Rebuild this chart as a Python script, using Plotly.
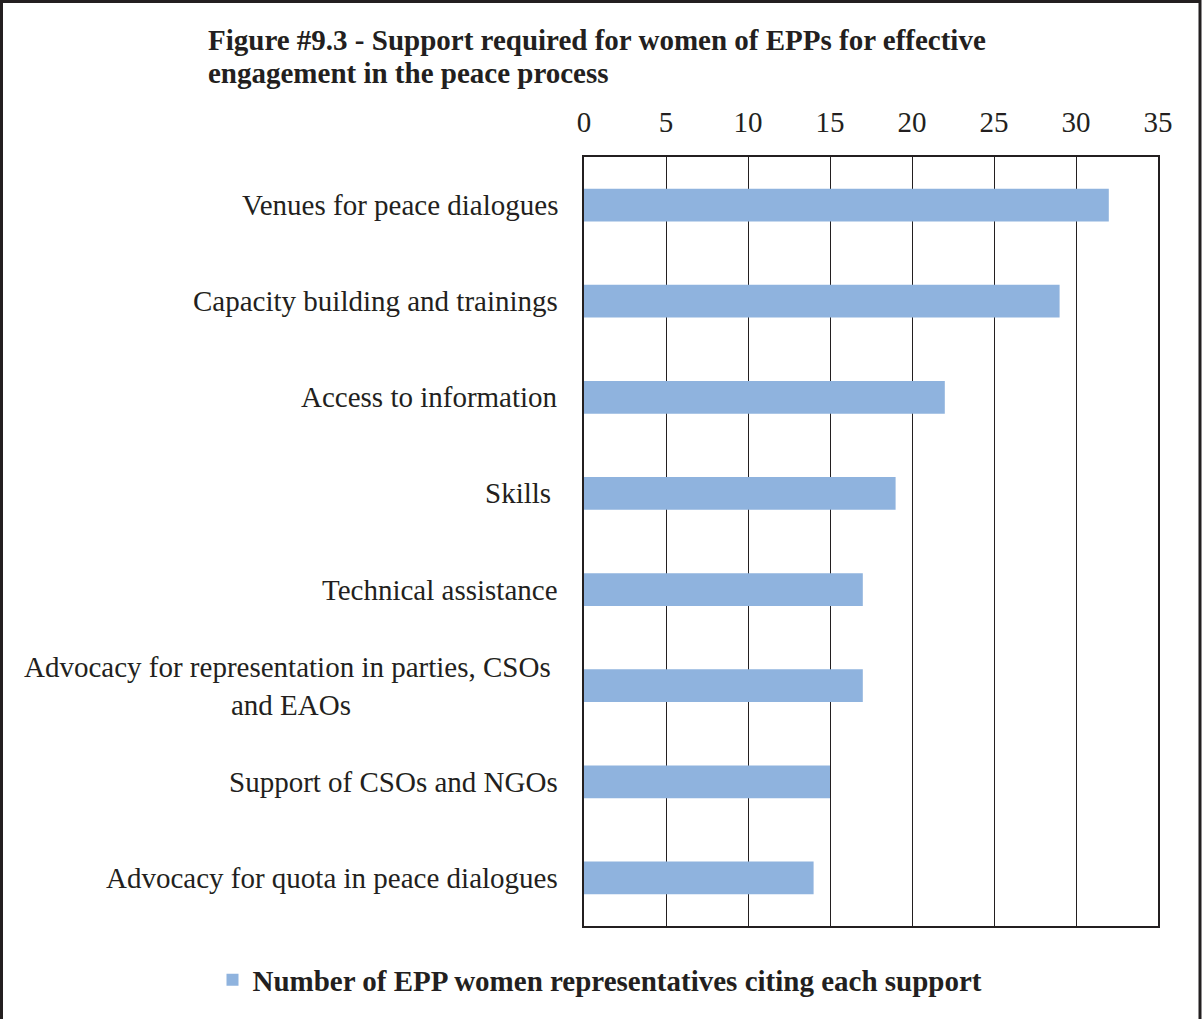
import plotly.graph_objects as go

categories = ["Venues for peace dialogues",
              "Capacity building and trainings",
              "Access to information",
              "Skills\u00a0",
              "Technical assistance",
              "Advocacy for representation in parties, CSOs\u00a0<br>and EAOs",
              "Support of CSOs and NGOs",
              "Advocacy for quota in peace dialogues"]
values = [32, 29, 22, 19, 17, 17, 15, 14]
series_name = "<b>Number of EPP women representatives citing each support</b>"
title_lines = ["Figure #9.3 - Support required for women of EPPs for effective",
               "engagement in the peace process"]

FONT = "Liberation Serif, Times New Roman, serif"
FS = 29
W, H = 1202, 1019
ML, MR, MT, MB = 584, 44, 157, 93
pw, ph = W - ML - MR, H - MT - MB


def px_x(p):
    return (p - ML) / pw


def px_y(p):
    return (H - MB - p) / ph


ids = list(range(len(categories)))

fig = go.Figure(go.Bar(
    x=values, y=ids, orientation="h",
    marker=dict(color="#8FB3DE", line=dict(width=0)),
    name=series_name, showlegend=True,
))

for i, c in zip(ids, categories):
    fig.add_annotation(x=px_x(560), xref="paper", y=i, yref="y",
                       text=c, showarrow=False, xanchor="right", align="center",
                       font=dict(family=FONT, size=FS, color="#231f20"))

# title, one annotation per line to match the tight line spacing
for top, line in zip([22, 55], title_lines):
    fig.add_annotation(x=px_x(206), xref="paper", y=px_y(top), yref="paper",
                       text="<b>" + line + "</b>", showarrow=False,
                       xanchor="left", yanchor="top", align="left",
                       font=dict(family=FONT, size=FS, color="#231f20"))

fig.update_layout(
    width=W, height=H,
    margin=dict(l=ML, r=MR, t=MT, b=MB),
    paper_bgcolor="white", plot_bgcolor="white",
    font=dict(family=FONT, size=FS, color="#231f20"),
    bargap=0.66,
    showlegend=True,
    legend=dict(orientation="h", x=px_x(600), xanchor="center", y=px_y(980), yanchor="middle",
                font=dict(family=FONT, size=FS, color="#231f20"), itemwidth=30),
    xaxis=dict(range=[0, 35], dtick=5, side="top", showgrid=True, gridcolor="#231f20", gridwidth=1,
               showline=True, linecolor="#231f20", linewidth=1.5, mirror=True, zeroline=False,
               ticks="", ticklabelstandoff=12, tickfont=dict(family=FONT, size=FS, color="#231f20")),
    yaxis=dict(range=[7.5, -0.5], showticklabels=False, showgrid=False, zeroline=False,
               showline=True, linecolor="#231f20", linewidth=1.5, mirror=True, ticks=""),
)

fig.add_shape(type="rect", xref="paper", yref="paper",
              x0=px_x(1.5), x1=px_x(1200), y0=px_y(1030), y1=px_y(1.5),
              line=dict(color="#231f20", width=3), layer="above")

fig.write_html("out.html", config={"displayModeBar": False},
               post_script="document.body.style.margin='0';")
